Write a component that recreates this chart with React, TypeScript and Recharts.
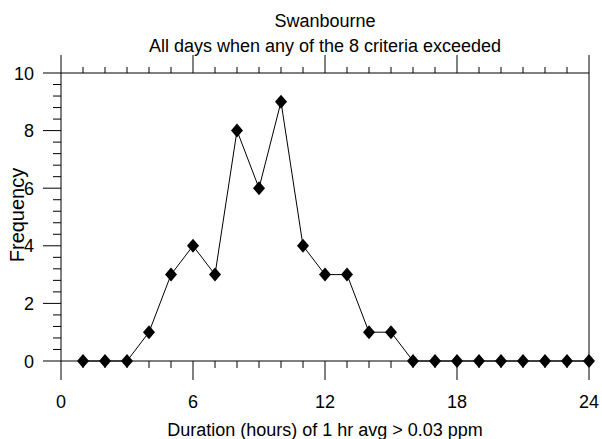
import { LineChart, Line, XAxis, YAxis, Label } from 'recharts';

const hours = [1, 2, 3, 4, 5, 6, 7, 8, 9, 10, 11, 12, 13, 14, 15, 16, 17, 18, 19, 20, 21, 22, 23, 24];
const frequency = [0, 0, 0, 1, 3, 4, 3, 8, 6, 9, 4, 3, 3, 1, 1, 0, 0, 0, 0, 0, 0, 0, 0, 0];

const xMajorTicks = [0, 6, 12, 18, 24];
const xMinorTicks = [1, 2, 3, 4, 5, 7, 8, 9, 10, 11, 13, 14, 15, 16, 17, 19, 20, 21, 22, 23];
const yMajorTicks = [0, 2, 4, 6, 8, 10];
const yMinorTicks = [
  0.4, 0.8, 1.2, 1.6, 2.4, 2.8, 3.2, 3.6, 4.4, 4.8, 5.2, 5.6,
  6.4, 6.8, 7.2, 7.6, 8.4, 8.8, 9.2, 9.6,
];

const titleLines = ['Swanbourne', 'All days when any of the 8 criteria exceeded'];
const xTitle = 'Duration (hours) of 1 hr avg > 0.03 ppm';
const yTitle = 'Frequency';

const FONT = '"Liberation Sans", Arial, Helvetica, sans-serif';
const INK = '#000';

const data = hours.map((h, i) => ({ hours: h, frequency: frequency[i] }));
const xTicks = [...xMajorTicks, ...xMinorTicks].sort((a, b) => a - b);
const yTicks = [...yMajorTicks, ...yMinorTicks].sort((a, b) => a - b);

function BottomTick({ x, y, payload }: any) {
  const major = xMajorTicks.includes(payload.value);
  return (
    <g>
      <line x1={x} x2={x} y1={y} y2={y + (major ? 19 : 7)} stroke={INK} />
      {major && (
        <text x={x} y={y + 47} textAnchor="middle" fontSize={18} fontFamily={FONT} fill={INK}>
          {payload.value}
        </text>
      )}
    </g>
  );
}

function TopTick({ x, y, payload }: any) {
  const major = xMajorTicks.includes(payload.value);
  return <line x1={x} x2={x} y1={y} y2={y - (major ? 18 : 6)} stroke={INK} />;
}

function LeftTick({ x, y, payload }: any) {
  const major = yMajorTicks.includes(payload.value);
  return (
    <g>
      <line x1={x} x2={x - (major ? 18 : 8)} y1={y} y2={y} stroke={INK} />
      {major && (
        <text x={x - 27} y={y + 6.5} textAnchor="end" fontSize={18} fontFamily={FONT} fill={INK}>
          {payload.value}
        </text>
      )}
    </g>
  );
}

function Diamond({ cx, cy }: any) {
  if (cx == null || cy == null) return null;
  return (
    <polygon
      points={`${cx},${cy - 7} ${cx + 6},${cy} ${cx},${cy + 7} ${cx - 6},${cy}`}
      fill={INK}
    />
  );
}

function TitleLabel({ viewBox }: any) {
  const cx = viewBox.x + viewBox.width / 2;
  return (
    <g>
      {titleLines.map((t, i) => (
        <text key={i} x={cx} y={27 + i * 25} textAnchor="middle" fontSize={18} fontFamily={FONT} fill={INK}>
          {t}
        </text>
      ))}
    </g>
  );
}

function XTitleLabel({ viewBox }: any) {
  return (
    <text x={viewBox.x + viewBox.width / 2} y={viewBox.y + 75} textAnchor="middle" fontSize={18} fontFamily={FONT} fill={INK}>
      {xTitle}
    </text>
  );
}

function YTitleLabel({ viewBox }: any) {
  const cy = viewBox.y + viewBox.height / 2 - 2;
  return (
    <text x={24} y={cy} transform={`rotate(-90 24 ${cy})`} textAnchor="middle" fontSize={20} fontFamily={FONT} fill={INK}>
      {yTitle}
    </text>
  );
}

export default function App() {
  return (
    <div style={{ position: 'absolute', left: 0, top: 0, width: 602, height: 439, background: '#fff' }}>
      <LineChart width={602} height={439} data={data} margin={{ top: 0, right: 0, bottom: 0, left: 0 }}>
        <XAxis
          dataKey="hours" type="number" domain={[0, 24]} ticks={xTicks} interval={0}
          height={78} stroke={INK} axisLine={{ stroke: INK }} tickLine={false}
          tickSize={0} tickMargin={0} tick={<BottomTick />}
        >
          <Label content={<XTitleLabel />} />
        </XAxis>
        <XAxis
          xAxisId="top" orientation="top" dataKey="hours" type="number" domain={[0, 24]}
          ticks={xTicks} interval={0} height={73} stroke={INK} axisLine={{ stroke: INK }}
          tickLine={false} tickSize={0} tickMargin={0} tick={<TopTick />}
        >
          <Label content={<TitleLabel />} />
        </XAxis>
        <YAxis
          type="number" domain={[0, 10]} ticks={yTicks} interval={0} width={61}
          stroke={INK} axisLine={{ stroke: INK }} tickLine={false} tickSize={0} tickMargin={0}
          tick={<LeftTick />}
        >
          <Label content={<YTitleLabel />} />
        </YAxis>
        <YAxis
          yAxisId="right" orientation="right" type="number" domain={[0, 10]} width={13}
          stroke={INK} axisLine={{ stroke: INK }} tick={false} tickLine={false}
        />
        <Line
          type="linear" dataKey="frequency" stroke={INK} strokeWidth={1}
          dot={(p: any) => <Diamond key={p.index} cx={p.cx} cy={p.cy} />}
          activeDot={false} isAnimationActive={false}
        />
      </LineChart>
    </div>
  );
}
